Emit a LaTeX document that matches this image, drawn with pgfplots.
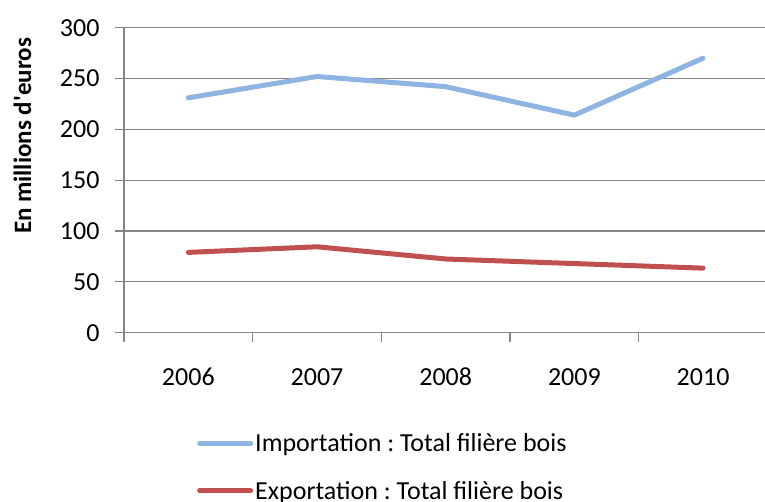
\documentclass[border=0pt]{standalone}
\usepackage{fontspec}
\setmainfont{Carlito}
\usepackage{pgfplots}
\pgfplotsset{compat=1.18}
\frenchspacing

\definecolor{impblue}{RGB}{141,180,227}
\definecolor{expred}{RGB}{192,80,77}
\definecolor{gridgray}{RGB}{134,134,134}

\begin{document}
\begin{tikzpicture}
\begin{axis}[
  at={(124pt,169.3pt)}, anchor=south west,
  scale only axis, width=643.4pt, height=305pt,
  xmin=0.5, xmax=5.5, ymin=0, ymax=300,
  xtick={0.5,1.5,2.5,3.5,4.5,5.5},
  x tick label as interval,
  xticklabels={2006,2007,2008,2009,2010},
  ytick={0,50,...,300},
  ymajorgrids, grid style={gridgray, line width=1.2pt},
  axis x line*=bottom, axis y line*=left,
  axis line style={gridgray, line width=1.2pt, -},
  tick style={gridgray, line width=1.2pt},
  tick align=outside, major tick length=9pt,
  font=\fontsize{26}{30}\selectfont,
  /pgf/number format/assume math mode=true,
  yticklabel style={xshift=-12pt},
  xticklabel style={yshift=-23pt},
  ylabel={En millions d\textquotesingle euros},
  ylabel style={font=\fontsize{25}{30}\selectfont\bfseries, at={(rel axis cs:-0.158,0.645)}, anchor=center, rotate=0},
  legend cell align=left,
  legend style={draw=none, at={(rel axis cs:0.1135,-0.33)}, anchor=north west,
    inner sep=0pt, row sep=28pt, column sep=0pt,
    nodes={inner xsep=2pt, inner ysep=0pt}},
  legend image code/.code={\draw[#1, line cap=round] (2.5pt,0pt) -- (53.5pt,0pt);},
  every axis plot/.append style={line width=5pt, line cap=round, line join=round},
]
\addplot[impblue] coordinates {(1,231) (2,252) (3,242) (4,214) (5,270)};
\addplot[expred] coordinates {(1,79) (2,84.5) (3,72.5) (4,68) (5,63.5)};
\legend{Importation : Total filière bois, Exportation : Total filière bois}
\end{axis}
\pgfresetboundingbox
\useasboundingbox (0,0) rectangle (765pt,502pt);
\end{tikzpicture}
\end{document}
